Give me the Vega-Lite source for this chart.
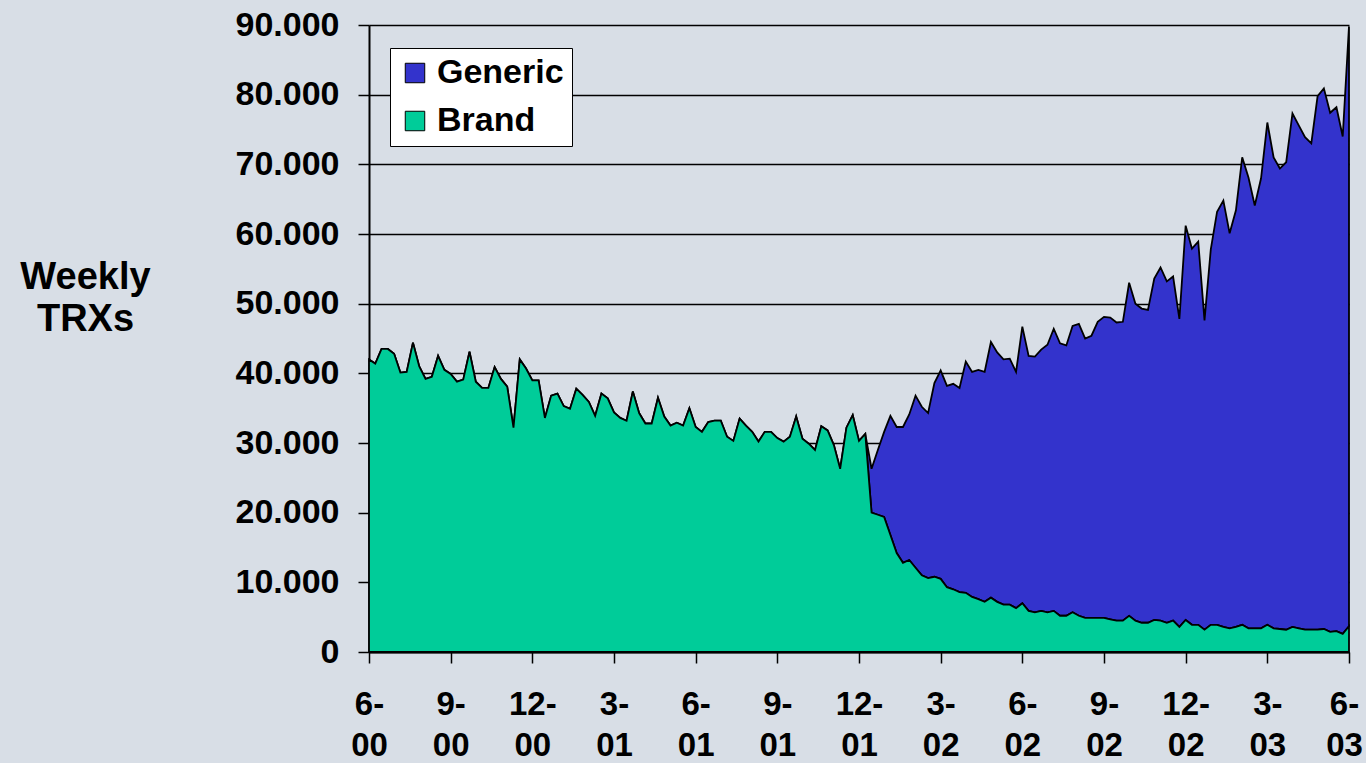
{
  "$schema": "https://vega.github.io/schema/vega-lite/v6.json",
  "width": 980,
  "height": 627,
  "autosize": {"type": "none"},
  "padding": {"left": 369, "top": 25, "right": 17, "bottom": 111},
  "background": "#d8dee6",
  "config": {"view": {"stroke": null}, "font": "Liberation Sans"},
  "data": {"values": [
    {"week":0,"Brand":42000,"Generic":0},{"week":1,"Brand":41400,"Generic":0},{"week":2,"Brand":43500,"Generic":0},{"week":3,"Brand":43500,"Generic":0},{"week":4,"Brand":42800,"Generic":0},
    {"week":5,"Brand":40100,"Generic":0},{"week":6,"Brand":40200,"Generic":0},{"week":7,"Brand":44400,"Generic":0},{"week":8,"Brand":41000,"Generic":0},{"week":9,"Brand":39200,"Generic":0},
    {"week":10,"Brand":39500,"Generic":0},{"week":11,"Brand":42500,"Generic":0},{"week":12,"Brand":40500,"Generic":0},{"week":13,"Brand":39900,"Generic":0},{"week":14,"Brand":38800,"Generic":0},
    {"week":15,"Brand":39100,"Generic":0},{"week":16,"Brand":43100,"Generic":0},{"week":17,"Brand":38800,"Generic":0},{"week":18,"Brand":37900,"Generic":0},{"week":19,"Brand":37900,"Generic":0},
    {"week":20,"Brand":40900,"Generic":0},{"week":21,"Brand":39200,"Generic":0},{"week":22,"Brand":38100,"Generic":0},{"week":23,"Brand":32200,"Generic":0},{"week":24,"Brand":42000,"Generic":0},
    {"week":25,"Brand":40700,"Generic":0},{"week":26,"Brand":39000,"Generic":0},{"week":27,"Brand":39000,"Generic":0},{"week":28,"Brand":33600,"Generic":0},{"week":29,"Brand":36800,"Generic":0},
    {"week":30,"Brand":37100,"Generic":0},{"week":31,"Brand":35300,"Generic":0},{"week":32,"Brand":34900,"Generic":0},{"week":33,"Brand":37800,"Generic":0},{"week":34,"Brand":36900,"Generic":0},
    {"week":35,"Brand":35900,"Generic":0},{"week":36,"Brand":33900,"Generic":0},{"week":37,"Brand":37100,"Generic":0},{"week":38,"Brand":36400,"Generic":0},{"week":39,"Brand":34400,"Generic":0},
    {"week":40,"Brand":33600,"Generic":0},{"week":41,"Brand":33200,"Generic":0},{"week":42,"Brand":37400,"Generic":0},{"week":43,"Brand":34300,"Generic":0},{"week":44,"Brand":32800,"Generic":0},
    {"week":45,"Brand":32800,"Generic":0},{"week":46,"Brand":36500,"Generic":0},{"week":47,"Brand":33800,"Generic":0},{"week":48,"Brand":32500,"Generic":0},{"week":49,"Brand":32900,"Generic":0},
    {"week":50,"Brand":32500,"Generic":0},{"week":51,"Brand":35000,"Generic":0},{"week":52,"Brand":32300,"Generic":0},{"week":53,"Brand":31600,"Generic":0},{"week":54,"Brand":33000,"Generic":0},
    {"week":55,"Brand":33200,"Generic":0},{"week":56,"Brand":33200,"Generic":0},{"week":57,"Brand":30900,"Generic":0},{"week":58,"Brand":30300,"Generic":0},{"week":59,"Brand":33500,"Generic":0},
    {"week":60,"Brand":32500,"Generic":0},{"week":61,"Brand":31600,"Generic":0},{"week":62,"Brand":30200,"Generic":0},{"week":63,"Brand":31600,"Generic":0},{"week":64,"Brand":31600,"Generic":0},
    {"week":65,"Brand":30700,"Generic":0},{"week":66,"Brand":30200,"Generic":0},{"week":67,"Brand":30900,"Generic":0},{"week":68,"Brand":33800,"Generic":0},{"week":69,"Brand":30600,"Generic":0},
    {"week":70,"Brand":29900,"Generic":0},{"week":71,"Brand":29000,"Generic":0},{"week":72,"Brand":32400,"Generic":0},{"week":73,"Brand":31800,"Generic":0},{"week":74,"Brand":29700,"Generic":0},
    {"week":75,"Brand":26300,"Generic":0},{"week":76,"Brand":32200,"Generic":0},{"week":77,"Brand":34000,"Generic":0},{"week":78,"Brand":30300,"Generic":0},{"week":79,"Brand":31300,"Generic":0},
    {"week":80,"Brand":20000,"Generic":6300},{"week":81,"Brand":19700,"Generic":9300},{"week":82,"Brand":19400,"Generic":12200},{"week":83,"Brand":16800,"Generic":17100},{"week":84,"Brand":14200,"Generic":18100},
    {"week":85,"Brand":12800,"Generic":19500},{"week":86,"Brand":13200,"Generic":20900},{"week":87,"Brand":12100,"Generic":24700},{"week":88,"Brand":11000,"Generic":24200},{"week":89,"Brand":10600,"Generic":23700},
    {"week":90,"Brand":10800,"Generic":27800},{"week":91,"Brand":10500,"Generic":29900},{"week":92,"Brand":9300,"Generic":28900},{"week":93,"Brand":9000,"Generic":29500},{"week":94,"Brand":8600,"Generic":29300},
    {"week":95,"Brand":8500,"Generic":33200},{"week":96,"Brand":7900,"Generic":32300},{"week":97,"Brand":7600,"Generic":32900},{"week":98,"Brand":7200,"Generic":33000},{"week":99,"Brand":7800,"Generic":36700},
    {"week":100,"Brand":7200,"Generic":35800},{"week":101,"Brand":6800,"Generic":35200},{"week":102,"Brand":6800,"Generic":35300},{"week":103,"Brand":6300,"Generic":33900},{"week":104,"Brand":7000,"Generic":39700},
    {"week":105,"Brand":5900,"Generic":36600},{"week":106,"Brand":5700,"Generic":36700},{"week":107,"Brand":5900,"Generic":37500},{"week":108,"Brand":5700,"Generic":38400},{"week":109,"Brand":5900,"Generic":40500},
    {"week":110,"Brand":5200,"Generic":39100},{"week":111,"Brand":5200,"Generic":38800},{"week":112,"Brand":5700,"Generic":41100},{"week":113,"Brand":5200,"Generic":41900},{"week":114,"Brand":4900,"Generic":40100},
    {"week":115,"Brand":4900,"Generic":40500},{"week":116,"Brand":4900,"Generic":42500},{"week":117,"Brand":4900,"Generic":43200},{"week":118,"Brand":4700,"Generic":43300},{"week":119,"Brand":4500,"Generic":42800},
    {"week":120,"Brand":4500,"Generic":42900},{"week":121,"Brand":5200,"Generic":47800},{"week":122,"Brand":4500,"Generic":45500},{"week":123,"Brand":4200,"Generic":45100},{"week":124,"Brand":4200,"Generic":44900},
    {"week":125,"Brand":4600,"Generic":49000},{"week":126,"Brand":4500,"Generic":50700},{"week":127,"Brand":4200,"Generic":49000},{"week":128,"Brand":4500,"Generic":49400},{"week":129,"Brand":3600,"Generic":44200},
    {"week":130,"Brand":4600,"Generic":56600},{"week":131,"Brand":3900,"Generic":54000},{"week":132,"Brand":3900,"Generic":55000},{"week":133,"Brand":3200,"Generic":44400},{"week":134,"Brand":3900,"Generic":53900},
    {"week":135,"Brand":3900,"Generic":59300},{"week":136,"Brand":3600,"Generic":61200},{"week":137,"Brand":3400,"Generic":56700},{"week":138,"Brand":3600,"Generic":59800},{"week":139,"Brand":3900,"Generic":67100},
    {"week":140,"Brand":3400,"Generic":64700},{"week":141,"Brand":3400,"Generic":60700},{"week":142,"Brand":3400,"Generic":64600},{"week":143,"Brand":3900,"Generic":72100},{"week":144,"Brand":3400,"Generic":67600},
    {"week":145,"Brand":3300,"Generic":66100},{"week":146,"Brand":3200,"Generic":67100},{"week":147,"Brand":3600,"Generic":73700},{"week":148,"Brand":3400,"Generic":72200},{"week":149,"Brand":3200,"Generic":70700},
    {"week":150,"Brand":3200,"Generic":69800},{"week":151,"Brand":3200,"Generic":76600},{"week":152,"Brand":3300,"Generic":77600},{"week":153,"Brand":2900,"Generic":74500},{"week":154,"Brand":3000,"Generic":75200},
    {"week":155,"Brand":2600,"Generic":71400},{"week":156,"Brand":3700,"Generic":86100}
  ]},
  "transform": [{"fold": ["Generic", "Brand"], "as": ["type", "trx"]}],
  "mark": {"type": "area", "stroke": "black", "strokeWidth": 1.8, "strokeJoin": "miter", "interpolate": "linear"},
  "encoding": {
    "x": {
      "field": "week", "type": "quantitative",
      "scale": {"domain": [0, 156], "nice": false, "zero": false},
      "axis": {
        "values": [0, 13, 26, 39, 52, 65, 78, 91, 104, 117, 130, 143, 156],
        "labelExpr": "[['6-','9-','12-','3-'][(datum.value/13)%4], '0' + floor((datum.value/13 + 1)/4)]",
        "labelFontSize": 33, "labelFontWeight": "bold", "labelColor": "black",
        "labelLineHeight": 41, "labelPadding": 25, "labelOverlap": false, "labelFlush": false,
        "labelBaseline": "top",
        "labelOffset": {"condition": {"test": "datum.value == 156", "value": -5}, "value": 0},
        "tickSize": 11, "tickColor": "black", "tickWidth": 1.5,
        "domainColor": "black", "domainWidth": 2,
        "grid": false, "title": null
      }
    },
    "y": {
      "field": "trx", "type": "quantitative", "stack": "zero",
      "scale": {"domain": [0, 90000], "nice": false},
      "axis": {
        "values": [0, 10000, 20000, 30000, 40000, 50000, 60000, 70000, 80000, 90000],
        "labelExpr": "replace(format(datum.value, ','), ',', '.')",
        "labelFontSize": 34, "labelFontWeight": "bold", "labelColor": "black",
        "labelPadding": 19, "labelOverlap": false, "labelFlush": false,
        "tickSize": 11, "tickColor": "black", "tickWidth": 1.5,
        "domainColor": "black", "domainWidth": 2,
        "grid": true, "gridColor": "black", "gridWidth": 1.5,
        "title": ["Weekly", "TRXs"], "titleAngle": 0, "titleX": -284, "titleY": 252,
        "titleAlign": "center", "titleBaseline": "middle",
        "titleFontSize": 38, "titleFontWeight": "bold", "titleColor": "black", "titleLineHeight": 42
      }
    },
    "color": {
      "field": "type", "type": "nominal",
      "scale": {"domain": ["Generic", "Brand"], "range": ["#3333CC", "#00CC99"]},
      "legend": {
        "title": null, "orient": "none", "legendX": 21, "legendY": 23,
        "fillColor": "white", "strokeColor": "black", "padding": 8,
        "labelFontSize": 34, "labelFontWeight": "bold", "labelColor": "black", "labelOffset": 5,
        "symbolType": "square", "symbolSize": 380, "symbolStrokeColor": "black", "symbolStrokeWidth": 1,
        "rowPadding": 14
      }
    },
    "order": {"field": "type", "sort": "ascending"}
  }
}
